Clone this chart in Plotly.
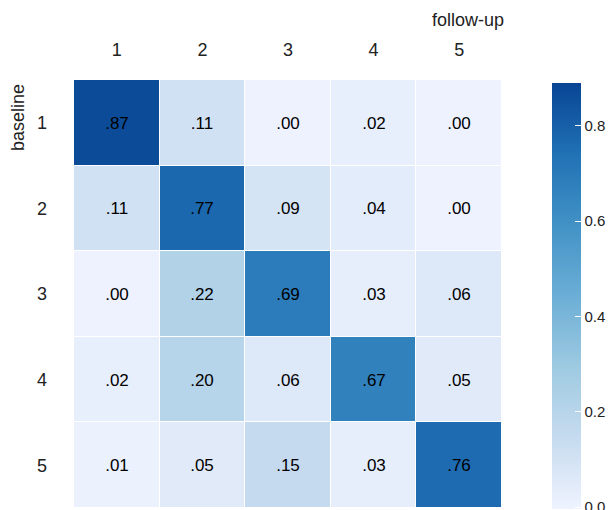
import plotly.graph_objects as go

categories = ["1", "2", "3", "4", "5"]
values = [
    [0.87, 0.11, 0.00, 0.02, 0.00],
    [0.11, 0.77, 0.09, 0.04, 0.00],
    [0.00, 0.22, 0.69, 0.03, 0.06],
    [0.02, 0.20, 0.06, 0.67, 0.05],
    [0.01, 0.05, 0.15, 0.03, 0.76],
]
colorbar_ticks = [0.0, 0.2, 0.4, 0.6, 0.8]
x_title = "follow-up"
y_title = "baseline"

text = [[f"{v:.2f}".lstrip("0") for v in row] for row in values]

blues = [
    [0.0, "#eff3ff"], [1/6, "#c6dbef"], [2/6, "#9ecae1"], [3/6, "#6baed6"],
    [4/6, "#4292c6"], [5/6, "#2171b5"], [1.0, "#084594"],
]

FONT = "Liberation Sans, Arial, sans-serif"

fig = go.Figure(go.Heatmap(
    z=values, x=categories, y=categories,
    text=text, texttemplate="%{text}",
    textfont=dict(family=FONT, size=17, color="black"),
    colorscale=blues, zmin=-0.004, zmax=0.89,
    xgap=1, ygap=1,
    colorbar=dict(
        x=(552 - 74) / 428, xanchor="left", xref="paper", xpad=0, ypad=0,
        y=(508 - 296) / 428, yanchor="middle",
        lenmode="pixels", len=426, thickness=29,
        outlinewidth=0,
        tickvals=colorbar_ticks, ticktext=[f"{t:.1f}" for t in colorbar_ticks],
        ticks="inside", tickcolor="white", ticklen=6,
        ticklabeloverflow="allow",
        tickfont=dict(family=FONT, size=15, color="#222"),
    ),
))

fig.update_layout(
    width=613, height=510,
    margin=dict(l=74, r=111, t=80, b=2, autoexpand=False),
    paper_bgcolor="white", plot_bgcolor="white",
    font=dict(family=FONT, color="#222"),
    xaxis=dict(side="top", showgrid=False, zeroline=False, ticks="",
               tickfont=dict(size=18), ticklabelstandoff=19, automargin=False),
    yaxis=dict(autorange="reversed", showgrid=False, zeroline=False, ticks="",
               tickfont=dict(size=18), ticklabelstandoff=26, automargin=False),
    annotations=[
        dict(text=x_title, xref="paper", yref="paper",
             x=(468 - 74) / 428, y=(508 - 20) / 428,
             xanchor="center", yanchor="middle",
             showarrow=False, font=dict(size=18, color="#222")),
        dict(text=y_title, xref="paper", yref="paper", textangle=-90,
             x=(18 - 74) / 428, y=(508 - 118) / 428,
             xanchor="center", yanchor="middle",
             showarrow=False, font=dict(size=18, color="#222")),
    ],
)

fig.write_html("out.html")
